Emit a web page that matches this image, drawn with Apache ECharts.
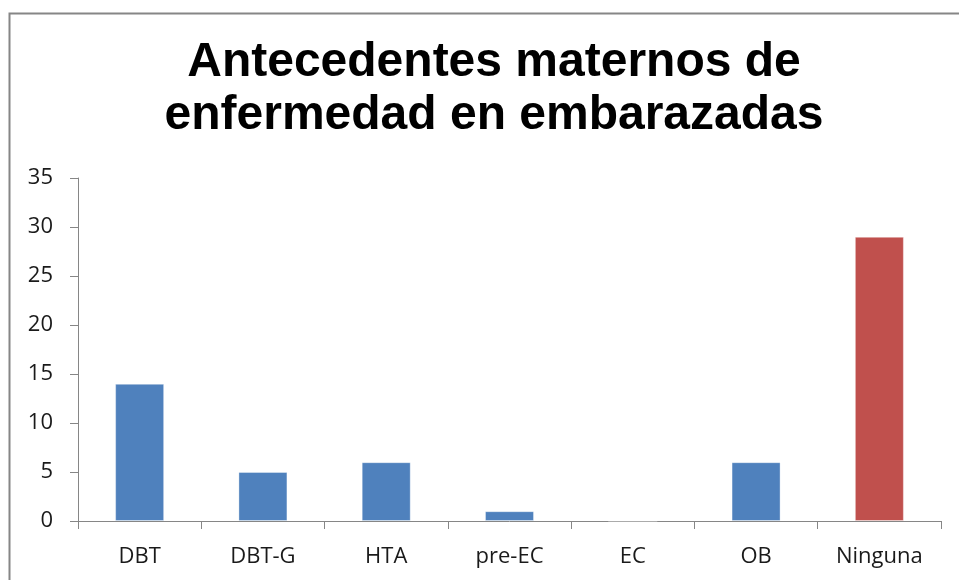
<!DOCTYPE html>
<html>
<head>
<meta charset="utf-8">
<script src="https://cdn.jsdelivr.net/npm/echarts@6/dist/echarts.min.js"></script>
<style>
  html, body { margin: 0; padding: 0; background: #fff; }
  #chart { width: 959px; height: 580px; }
</style>
</head>
<body>
<div id="chart"></div>
<script>
  const categories = ['DBT', 'DBT-G', 'HTA', 'pre-EC', 'EC', 'OB', 'Ninguna'];
  const values = [14, 5, 6, 1, 0, 6, 29];
  const yTicks = [0, 5, 10, 15, 20, 25, 30, 35];

  const chart = echarts.init(document.getElementById('chart'));

  chart.setOption({
    animation: false,
    graphic: [
      {
        type: 'rect',
        shape: { x: 9.5, y: 13.5, width: 1000, height: 700 },
        style: { fill: 'none', stroke: '#868686', lineWidth: 2 },
        silent: true,
      },
    ],
    title: {
      text: 'Antecedentes maternos de\nenfermedad en embarazadas',
      left: 489,
      top: 31,
      textAlign: 'center',
      textStyle: {
        fontFamily: 'Liberation Sans, Arial, sans-serif',
        fontWeight: 'bold',
        fontSize: 48,
        lineHeight: 53,
        color: '#000',
      },
    },
    grid: { left: 78, right: 18, top: 178, bottom: 59, containLabel: false },
    xAxis: {
      type: 'category',
      data: categories,
      axisLine: { lineStyle: { color: '#868686', width: 1 } },
      axisTick: { show: true, length: 8, alignWithLabel: false, lineStyle: { color: '#868686' } },
      axisLabel: {
        color: '#1a1a1a',
        fontFamily: 'Open Sans, Noto Sans, sans-serif',
        fontSize: 22,
        margin: 25,
      },
    },
    yAxis: {
      type: 'value',
      min: yTicks[0],
      max: yTicks[yTicks.length - 1],
      interval: yTicks[1] - yTicks[0],
      axisLine: { show: true, lineStyle: { color: '#868686', width: 1 } },
      axisTick: { show: true, length: 8, lineStyle: { color: '#868686' } },
      splitLine: { show: false },
      axisLabel: {
        color: '#1a1a1a',
        fontFamily: 'Open Sans, Noto Sans, sans-serif',
        fontSize: 22,
        margin: 25,
      },
    },
    series: [
      {
        type: 'bar',
        data: values,
        barWidth: 49,
        itemStyle: {
          color: (p) => (p.name === 'Ninguna' ? '#C0504D' : '#4F81BD'),
          borderColor: 'rgba(255,255,255,0.35)',
          borderWidth: 1,
        },
      },
    ],
  });
</script>
</body>
</html>
